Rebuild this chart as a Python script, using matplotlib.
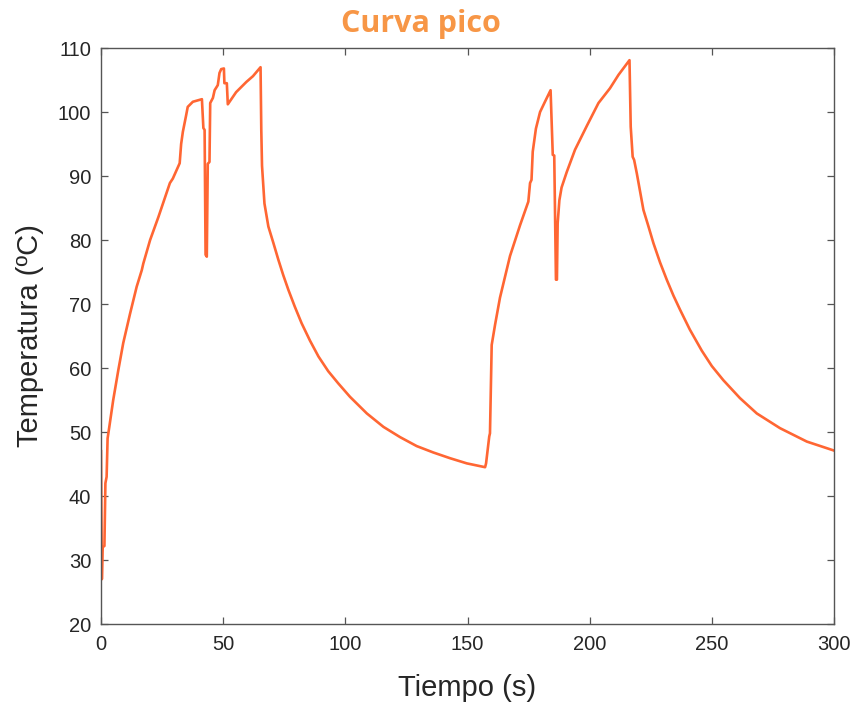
import matplotlib
matplotlib.use("Agg")
import matplotlib.pyplot as plt

tiempo = [0, 0.35, 0.7, 1.4, 1.8, 2.3, 2.7, 3.4, 5.0, 7.1, 9.1, 11.9, 14.6, 16.7, 17.3,
          20.1, 23.5, 28.2, 29.4, 32.2, 32.8, 33.5, 34.8, 35.5, 37.6, 41.3, 41.9, 42.4,
          42.8, 43.3, 43.7, 44.4, 44.7, 45.8, 46.5, 47.8, 48.5, 49.2, 50.3, 50.5, 51.5,
          51.9, 55.3, 59.5, 62.2, 65.3, 65.6, 65.9, 66.9, 68.5, 70.5, 72.6, 74.6, 76.7,
          79.3, 82.1, 85.5, 89.0, 93.0, 97.1, 101.9, 108.8, 115.6, 122.4, 129.2, 136,
          142.9, 149.7, 157.2, 157.6, 158.9, 159.2, 159.9, 161.3, 163.3, 167.4, 171.5,
          174.9, 175.6, 176.2, 176.7, 178, 179.7, 181.7, 184, 184.9, 185.5, 186.2, 186.6,
          186.9, 187.6, 188.5, 190.6, 194.0, 198.8, 203.6, 208.3, 211.8, 216.3, 216.8,
          217.6, 218.2, 219.3, 222.0, 224.0, 226.1, 228.8, 231.6, 234.3, 237.0, 241.0,
          245.9, 250.0, 254.7, 261.5, 268.4, 277.9, 288.9, 300]
temperatura = [47, 27, 32, 32.2, 42, 43, 49, 50.8, 55, 59.7, 63.9, 68.5, 72.7, 75.3, 76.3,
               80, 83.6, 88.9, 89.6, 92, 95, 96.9, 99.4, 100.8, 101.6, 102, 97.5, 97.2,
               77.7, 77.4, 91.9, 92.2, 101.4, 102.2, 103.4, 104.2, 106.1, 106.7, 106.8,
               104.5, 104.5, 101.2, 103.1, 104.7, 105.6, 107, 97.2, 91.6, 85.7, 82.1,
               79.6, 76.9, 74.5, 72.2, 69.6, 67, 64.3, 61.8, 59.5, 57.6, 55.5, 52.9, 50.8,
               49.2, 47.8, 46.8, 45.9, 45.1, 44.5, 45.1, 49.3, 49.8, 63.6, 66.8, 71, 77.5,
               82.3, 86, 88.9, 89.4, 93.8, 97.4, 100, 101.6, 103.4, 93.3, 93.2, 73.8, 73.8,
               82.6, 86.2, 88.2, 90.6, 94.1, 97.8, 101.4, 103.7, 105.8, 108.1, 97.7,
               93.0, 92.5, 90.4, 84.7, 82.2, 79.5, 76.5, 73.75, 71.3, 69.1, 66.0,
               62.7, 60.3, 58.1, 55.3, 52.9, 50.6, 48.5, 47.1]

xticks = [0, 50, 100, 150, 200, 250, 300]
yticks = [20, 30, 40, 50, 60, 70, 80, 90, 100, 110]

plt.rcParams['font.family'] = ['Liberation Sans', 'DejaVu Sans']

fig = plt.figure(figsize=(8.53, 7.03), dpi=100)
ax = fig.add_axes([101/853, 1-624/703, 733/853, 576/703])
ax.plot(tiempo, temperatura, color='#FF6633', lw=1.9, solid_joinstyle='round')
ax.set_xlim(0, 300)
ax.set_ylim(20, 110)
ax.set_xticks(xticks)
ax.set_yticks(yticks)
axc = '#555555'
for s in ax.spines.values():
    s.set_color(axc)
    s.set_linewidth(1.0)
ax.tick_params(direction='in', top=True, right=True, length=5, width=0.9,
               color=axc, labelcolor='#262626', labelsize=14.5)
ax.tick_params(axis='x', pad=8)
ax.tick_params(axis='y', pad=7)
ax.set_xlabel('Tiempo (s)', fontsize=21, color='#262626', labelpad=14)
ax.set_ylabel('Temperatura (ºC)', fontsize=21, color='#262626', labelpad=10)

fig.text(421/853, 1-24/703, 'Curva pico', ha='center', va='center',
         fontsize=22, fontweight='bold', color='#F79646', family='Open Sans')

fig.savefig('out.png', dpi=100)
